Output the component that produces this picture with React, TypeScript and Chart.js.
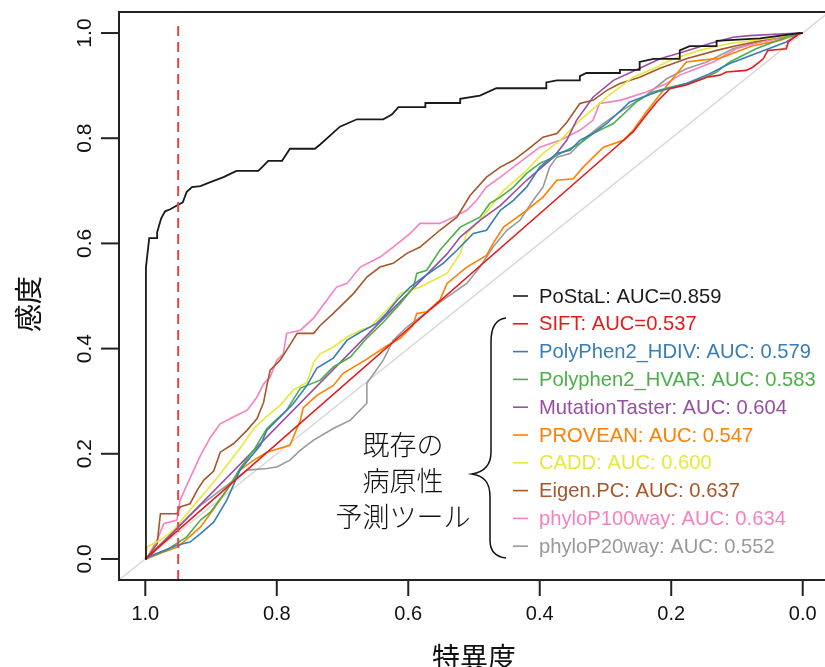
import { useEffect, useRef } from "react";
import { Chart, registerables } from "chart.js";

Chart.register(...registerables);

// ---- axis / text content ----
const xTicks = [1.0, 0.8, 0.6, 0.4, 0.2, 0.0];
const yTicks = [0.0, 0.2, 0.4, 0.6, 0.8, 1.0];
const xTitle = "特異度";
const yTitle = "感度";
const groupLabel = ["既存の", "病原性", "予測ツール"];
const cutoffSpec = 0.95;

const seriesNames = [
  "PoStaL: AUC=0.859",
  "SIFT: AUC=0.537",
  "PolyPhen2_HDIV: AUC: 0.579",
  "Polyphen2_HVAR: AUC: 0.583",
  "MutationTaster: AUC: 0.604",
  "PROVEAN: AUC: 0.547",
  "CADD: AUC: 0.600",
  "Eigen.PC: AUC: 0.637",
  "phyloP100way: AUC: 0.634",
  "phyloP20way: AUC: 0.552",
];

// ---- ROC data: [specificity, sensitivity] ----
const postal: number[][] = [
  [1.0, 0.0], [0.999, 0.555], [0.994, 0.61], [0.982, 0.61], [0.982, 0.621], [0.976, 0.647],
  [0.97, 0.661], [0.962, 0.665], [0.952, 0.672], [0.943, 0.678], [0.937, 0.698], [0.929, 0.707],
  [0.916, 0.709], [0.904, 0.715], [0.894, 0.72], [0.881, 0.726], [0.866, 0.735], [0.861, 0.738],
  [0.828, 0.738], [0.82, 0.748], [0.813, 0.757], [0.792, 0.757], [0.78, 0.78], [0.742, 0.78],
  [0.734, 0.788], [0.719, 0.805], [0.704, 0.822], [0.691, 0.829], [0.678, 0.836], [0.638, 0.836],
  [0.625, 0.845], [0.615, 0.859], [0.574, 0.859], [0.574, 0.867], [0.521, 0.867], [0.521, 0.875],
  [0.491, 0.881], [0.466, 0.895], [0.39, 0.895], [0.39, 0.906], [0.374, 0.91], [0.339, 0.91],
  [0.339, 0.918], [0.329, 0.924], [0.278, 0.924], [0.278, 0.93], [0.248, 0.93], [0.248, 0.945],
  [0.227, 0.951], [0.187, 0.951], [0.187, 0.967], [0.172, 0.975], [0.131, 0.975], [0.131, 0.985],
  [0.065, 0.99], [0.005, 1.0], [0.0, 1.0],
];

const sift: number[][] = [
  [1.0, 0.0], [0.278, 0.79], [0.258, 0.812], [0.238, 0.844], [0.222, 0.869], [0.202, 0.894],
  [0.177, 0.901], [0.146, 0.916], [0.126, 0.92], [0.116, 0.926], [0.086, 0.929], [0.076, 0.935],
  [0.06, 0.951], [0.053, 0.967], [0.025, 0.97], [0.022, 0.983], [0.005, 0.999], [0.0, 1.0],
];

const polyphenHdiv: number[][] = [
  [1.0, 0.0], [0.997, 0.003], [0.952, 0.026], [0.932, 0.032], [0.916, 0.048], [0.896, 0.07],
  [0.876, 0.112], [0.856, 0.169], [0.825, 0.216], [0.815, 0.245], [0.795, 0.27], [0.775, 0.295],
  [0.754, 0.33], [0.739, 0.363], [0.714, 0.382], [0.693, 0.416], [0.673, 0.431], [0.648, 0.448],
  [0.633, 0.467], [0.617, 0.492], [0.597, 0.517], [0.577, 0.536], [0.547, 0.562], [0.526, 0.587],
  [0.501, 0.619], [0.481, 0.625], [0.46, 0.663], [0.44, 0.682], [0.42, 0.707], [0.4, 0.745],
  [0.374, 0.771], [0.354, 0.777], [0.339, 0.796], [0.319, 0.809], [0.298, 0.828], [0.263, 0.869],
  [0.222, 0.888], [0.177, 0.904], [0.146, 0.92], [0.111, 0.942], [0.065, 0.964], [0.025, 0.983],
  [0.005, 0.999], [0.0, 1.0],
];

const polyphenHvar: number[][] = [
  [1.0, 0.0], [0.997, 0.003], [0.967, 0.017], [0.937, 0.042], [0.916, 0.074], [0.901, 0.089],
  [0.876, 0.131], [0.856, 0.172], [0.835, 0.207], [0.815, 0.248], [0.785, 0.283], [0.764, 0.325],
  [0.734, 0.34], [0.714, 0.365], [0.688, 0.384], [0.663, 0.42], [0.638, 0.45], [0.612, 0.486],
  [0.592, 0.517], [0.587, 0.543], [0.572, 0.549], [0.552, 0.587], [0.521, 0.631], [0.491, 0.65],
  [0.476, 0.676], [0.46, 0.688], [0.44, 0.707], [0.42, 0.733], [0.4, 0.752], [0.379, 0.764],
  [0.359, 0.777], [0.339, 0.79], [0.319, 0.809], [0.288, 0.828], [0.253, 0.869], [0.228, 0.888],
  [0.202, 0.897], [0.177, 0.904], [0.152, 0.913], [0.131, 0.926], [0.111, 0.945], [0.071, 0.97],
  [0.025, 0.992], [0.005, 0.999], [0.0, 1.0],
];

const mutationTaster: number[][] = [
  [1.0, 0.0], [0.997, 0.001], [0.541, 0.58], [0.521, 0.612], [0.491, 0.644], [0.46, 0.672],
  [0.42, 0.72], [0.379, 0.764], [0.359, 0.796], [0.344, 0.834], [0.319, 0.878], [0.288, 0.91],
  [0.248, 0.933], [0.217, 0.951], [0.182, 0.964], [0.141, 0.98], [0.106, 0.992], [0.081, 0.995],
  [0.005, 1.0], [0.0, 1.0],
];

const provean: number[][] = [
  [1.0, 0.0], [0.997, 0.001], [0.977, 0.011], [0.95, 0.023], [0.916, 0.061], [0.897, 0.093],
  [0.876, 0.131], [0.856, 0.169], [0.835, 0.188], [0.815, 0.203], [0.78, 0.216], [0.764, 0.264],
  [0.76, 0.287], [0.739, 0.311], [0.714, 0.33], [0.699, 0.353], [0.663, 0.38], [0.633, 0.405],
  [0.612, 0.42], [0.593, 0.444], [0.587, 0.467], [0.572, 0.47], [0.552, 0.492], [0.541, 0.524],
  [0.511, 0.555], [0.481, 0.577], [0.471, 0.6], [0.455, 0.631], [0.42, 0.663], [0.395, 0.688],
  [0.374, 0.72], [0.349, 0.723], [0.334, 0.745], [0.303, 0.783], [0.273, 0.796], [0.258, 0.815],
  [0.238, 0.85], [0.202, 0.907], [0.177, 0.945], [0.157, 0.948], [0.126, 0.952], [0.101, 0.964],
  [0.076, 0.976], [0.035, 0.986], [0.005, 0.999], [0.0, 1.0],
];

const cadd: number[][] = [
  [1.0, 0.0], [0.997, 0.023], [0.977, 0.036], [0.957, 0.055], [0.932, 0.093], [0.916, 0.117],
  [0.896, 0.146], [0.876, 0.178], [0.856, 0.21], [0.835, 0.248], [0.815, 0.271], [0.795, 0.292],
  [0.775, 0.321], [0.754, 0.336], [0.744, 0.374], [0.734, 0.39], [0.714, 0.403], [0.693, 0.422],
  [0.673, 0.435], [0.658, 0.441], [0.643, 0.46], [0.623, 0.486], [0.612, 0.505], [0.582, 0.517],
  [0.562, 0.53], [0.541, 0.543], [0.521, 0.581], [0.511, 0.619], [0.491, 0.644], [0.471, 0.676],
  [0.455, 0.701], [0.425, 0.733], [0.395, 0.771], [0.369, 0.796], [0.339, 0.834], [0.298, 0.878],
  [0.258, 0.916], [0.227, 0.932], [0.197, 0.951], [0.157, 0.967], [0.111, 0.98], [0.055, 0.989],
  [0.005, 0.999], [0.0, 1.0],
];

const eigenPc: number[][] = [
  [1.0, 0.0], [0.997, 0.003], [0.982, 0.029], [0.977, 0.086], [0.952, 0.086], [0.947, 0.099],
  [0.932, 0.105], [0.921, 0.131], [0.911, 0.15], [0.896, 0.167], [0.886, 0.203], [0.866, 0.219],
  [0.845, 0.245], [0.83, 0.267], [0.82, 0.298], [0.815, 0.33], [0.81, 0.359], [0.795, 0.378],
  [0.785, 0.397], [0.769, 0.429], [0.744, 0.429], [0.734, 0.444], [0.714, 0.467], [0.683, 0.505],
  [0.663, 0.536], [0.643, 0.555], [0.623, 0.562], [0.602, 0.581], [0.582, 0.593], [0.552, 0.625],
  [0.526, 0.65], [0.506, 0.691], [0.481, 0.726], [0.46, 0.745], [0.44, 0.758], [0.42, 0.777],
  [0.395, 0.802], [0.374, 0.809], [0.359, 0.83], [0.339, 0.866], [0.319, 0.872], [0.298, 0.891],
  [0.278, 0.904], [0.248, 0.916], [0.217, 0.933], [0.177, 0.951], [0.131, 0.967], [0.101, 0.976],
  [0.05, 0.989], [0.005, 1.0], [0.0, 1.0],
];

const phyloP100: number[][] = [
  [1.0, 0.0], [0.997, 0.003], [0.982, 0.036], [0.972, 0.067], [0.952, 0.074], [0.947, 0.112],
  [0.937, 0.14], [0.916, 0.197], [0.901, 0.231], [0.886, 0.257], [0.866, 0.27], [0.845, 0.283],
  [0.83, 0.308], [0.82, 0.333], [0.81, 0.346], [0.8, 0.378], [0.79, 0.39], [0.785, 0.429],
  [0.764, 0.435], [0.744, 0.458], [0.724, 0.492], [0.709, 0.517], [0.693, 0.524], [0.673, 0.555],
  [0.643, 0.574], [0.623, 0.593], [0.597, 0.619], [0.582, 0.638], [0.552, 0.638], [0.531, 0.65],
  [0.511, 0.663], [0.496, 0.682], [0.481, 0.707], [0.46, 0.726], [0.44, 0.745], [0.42, 0.764],
  [0.4, 0.783], [0.369, 0.796], [0.339, 0.815], [0.319, 0.834], [0.309, 0.866], [0.278, 0.872],
  [0.238, 0.888], [0.207, 0.904], [0.187, 0.92], [0.162, 0.932], [0.136, 0.945], [0.101, 0.97],
  [0.065, 0.983], [0.025, 0.992], [0.005, 0.999], [0.0, 1.0],
];

const phyloP20: number[][] = [
  [1.0, 0.0], [0.997, 0.004], [0.916, 0.102], [0.845, 0.169], [0.815, 0.172], [0.8, 0.175],
  [0.78, 0.188], [0.764, 0.207], [0.744, 0.226], [0.714, 0.248], [0.688, 0.264], [0.663, 0.296],
  [0.663, 0.334], [0.638, 0.378], [0.623, 0.416], [0.602, 0.441], [0.582, 0.46], [0.562, 0.479],
  [0.541, 0.498], [0.511, 0.524], [0.491, 0.555], [0.471, 0.593], [0.45, 0.625], [0.43, 0.644],
  [0.41, 0.682], [0.395, 0.707], [0.385, 0.745], [0.374, 0.764], [0.354, 0.771], [0.329, 0.802],
  [0.303, 0.828], [0.278, 0.85], [0.238, 0.882], [0.207, 0.913], [0.177, 0.932], [0.146, 0.945],
  [0.106, 0.97], [0.076, 0.98], [0.015, 0.996], [0.0, 1.0],
];

const seriesData = [
  postal, sift, polyphenHdiv, polyphenHvar, mutationTaster,
  provean, cadd, eigenPc, phyloP100, phyloP20,
];

const seriesColors = [
  "#1a1a1a", "#E41A1C", "#377EB8", "#4DAF4A", "#984EA3",
  "#FF7F00", "#E8E83A", "#A65628", "#F781BF", "#999999",
];

const LATIN = '"Liberation Sans", Arial, Helvetica, sans-serif';
const CJK = '"Noto Sans CJK JP", "Noto Sans CJK SC", sans-serif';

const decorPlugin = {
  id: "decor",
  afterDraw(chart: any) {
    const { ctx, chartArea } = chart;
    const xs = chart.scales.x;
    const ys = chart.scales.y;
    const { left, right, top, bottom } = chartArea;
    ctx.save();

    // box
    ctx.strokeStyle = "#222";
    ctx.lineWidth = 2;
    ctx.beginPath();
    ctx.rect(left, top, right - left, bottom - top);
    ctx.stroke();

    // x ticks + labels
    ctx.fillStyle = "#111";
    ctx.font = `20px ${LATIN}`;
    ctx.textAlign = "center";
    ctx.textBaseline = "alphabetic";
    ctx.lineWidth = 2;
    xTicks.forEach((v) => {
      const px = xs.getPixelForValue(v);
      ctx.beginPath();
      ctx.moveTo(px, bottom);
      ctx.lineTo(px, bottom + 16);
      ctx.stroke();
      ctx.fillText(v.toFixed(1), px, bottom + 39.5);
    });

    // y ticks + labels (rotated)
    ctx.font = `21px ${LATIN}`;
    yTicks.forEach((v) => {
      const py = ys.getPixelForValue(v);
      ctx.beginPath();
      ctx.moveTo(left, py);
      ctx.lineTo(left - 18, py);
      ctx.stroke();
      ctx.save();
      ctx.translate(left - 28, py);
      ctx.rotate(-Math.PI / 2);
      ctx.fillText(v.toFixed(1), 0, 0);
      ctx.restore();
    });

    // axis titles
    ctx.font = `28px ${CJK}`;
    ctx.textBaseline = "middle";
    ctx.textAlign = "center";
    ctx.fillText(xTitle, (left + right) / 2, bottom + 77);
    ctx.save();
    ctx.translate(28, (top + bottom) / 2 + 8);
    ctx.rotate(-Math.PI / 2);
    ctx.fillText(yTitle, 0, 0);
    ctx.restore();

    // legend
    const lgX = 513;
    const lgY0 = 296;
    const lgStep = 27.8;
    ctx.font = `20.2px ${LATIN}`;
    ctx.textAlign = "left";
    ctx.textBaseline = "middle";
    seriesNames.forEach((name, i) => {
      const y = lgY0 + i * lgStep;
      ctx.strokeStyle = seriesColors[i];
      ctx.lineWidth = 1.6;
      ctx.beginPath();
      ctx.moveTo(lgX, y);
      ctx.lineTo(lgX + 15, y);
      ctx.stroke();
      ctx.fillStyle = seriesColors[i];
      ctx.fillText(name, lgX + 26, y + 1);
    });

    // brace
    ctx.strokeStyle = "#111";
    ctx.lineWidth = 1.5;
    ctx.beginPath();
    ctx.moveTo(506, 318);
    ctx.bezierCurveTo(496, 319, 491, 326, 491, 342);
    ctx.lineTo(491, 452);
    ctx.bezierCurveTo(491, 466, 484, 472, 472, 474);
    ctx.bezierCurveTo(484, 476, 490, 482, 490, 497);
    ctx.lineTo(490, 540);
    ctx.bezierCurveTo(490, 552, 496, 557, 506, 558);
    ctx.stroke();

    // group label
    ctx.fillStyle = "#111";
    ctx.font = `300 27px ${CJK}`;
    ctx.textAlign = "center";
    ctx.textBaseline = "middle";
    groupLabel.forEach((t, i) => {
      ctx.fillText(t, 403, 445 + i * 36);
    });

    ctx.restore();
  },
};

export default function App() {
  const ref = useRef<HTMLCanvasElement | null>(null);

  useEffect(() => {
    if (!ref.current) return;
    const toPts = (arr: number[][]) => arr.map(([s, v]) => ({ x: s, y: v }));

    const curveSets = seriesData.map((d, i) => ({
      label: seriesNames[i],
      data: toPts(d),
      borderColor: seriesColors[i],
      borderWidth: i === 0 ? 1.8 : 1.6,
      pointRadius: 0,
      showLine: true,
      fill: false,
      tension: 0,
      order: i === 0 ? 2 : 3,
    }));

    const chart = new Chart(ref.current, {
      type: "scatter",
      data: {
        datasets: [
          {
            label: "cutoff",
            data: [
              { x: cutoffSpec, y: -0.04 },
              { x: cutoffSpec, y: 1.02 },
            ],
            borderColor: "#E8434A",
            borderWidth: 2,
            borderDash: [10, 6],
            pointRadius: 0,
            showLine: true,
            order: 1,
          },
          ...curveSets,
          {
            label: "diag",
            data: [
              { x: 1.04, y: -0.04 },
              { x: -0.04, y: 1.04 },
            ],
            borderColor: "#DADADA",
            borderWidth: 1.5,
            pointRadius: 0,
            showLine: true,
            order: 5,
          },
        ],
      },
      options: {
        animation: false,
        responsive: false,
        devicePixelRatio: 1,
        layout: { padding: { left: 119, right: 11, top: 12, bottom: 87 } },
        scales: {
          x: { type: "linear", min: -0.04, max: 1.04, reverse: true, display: false },
          y: { type: "linear", min: -0.04, max: 1.04, display: false },
        },
        plugins: {
          legend: { display: false },
          tooltip: { enabled: false },
        },
      },
      plugins: [decorPlugin],
    });
    return () => chart.destroy();
  }, []);

  return (
    <div
      style={{
        position: "fixed",
        left: 0,
        top: 0,
        width: 825,
        height: 667,
        overflow: "hidden",
        background: "#fff",
      }}
    >
      <canvas ref={ref} width={840} height={667} style={{ display: "block", width: 840, height: 667 }} />
    </div>
  );
}
